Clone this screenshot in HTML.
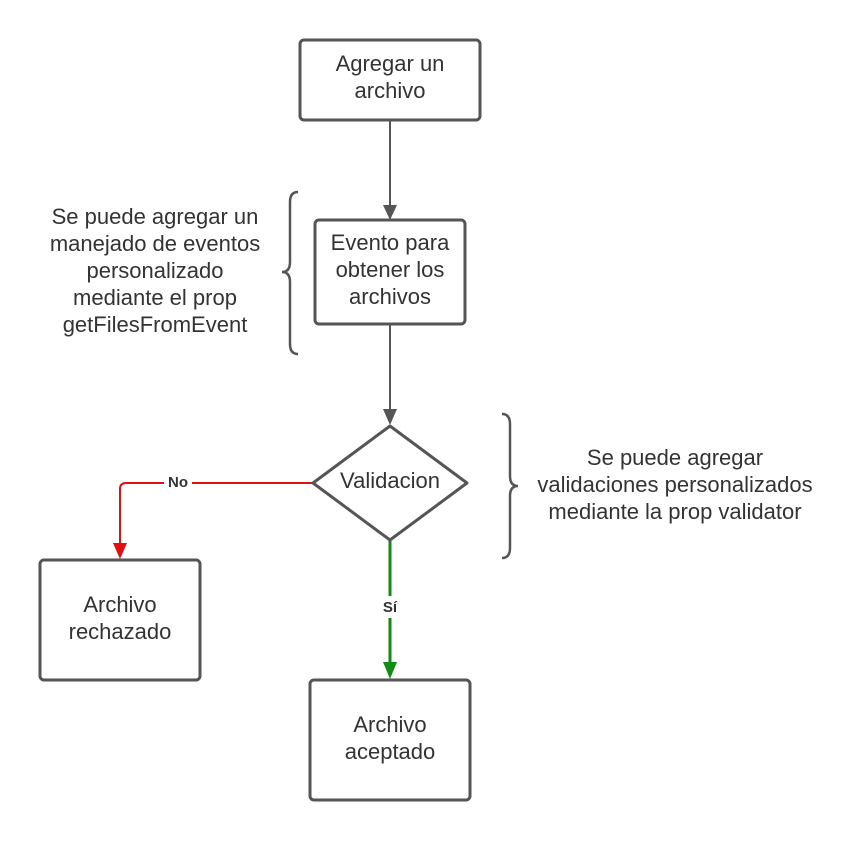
<!DOCTYPE html>
<html><head><style>
body{margin:0;background:#fff;}
svg text{font-family:"Liberation Sans",sans-serif;fill:#333;}
</style></head><body>
<svg width="860" height="840" xmlns="http://www.w3.org/2000/svg">
<g fill="none" stroke="#555" stroke-width="3">
<rect x="300" y="40" width="180" height="80" rx="4"/>
<rect x="315" y="220" width="150" height="104" rx="4"/>
<rect x="40" y="560" width="160" height="120" rx="4"/>
<rect x="310" y="680" width="160" height="120" rx="4"/>
<path d="M390,426 L467,483 L390,540 L313,483 Z" stroke-linejoin="round"/>
<line x1="390" y1="120" x2="390" y2="206" stroke-width="2"/>
<line x1="390" y1="324" x2="390" y2="410" stroke-width="2"/>
<path d="M298,192 Q290,192 290,202 L290,262 Q290,272 282,272 Q290,272 290,282 L290,344 Q290,354 298,354" stroke-width="2.5"/>
<path d="M502,414 Q510,414 510,424 L510,476 Q510,486 518,486 Q510,486 510,496 L510,548 Q510,558 502,558" stroke-width="2.5"/>
</g>
<path d="M383,205 L397,205 L390,220 Z" fill="#555"/>
<path d="M383,409 L397,409 L390,425 Z" fill="#555"/>
<path d="M312,483 L126,483 Q120,483 120,489 L120,545" fill="none" stroke="#e01010" stroke-width="2"/>
<path d="M113,543 L127,543 L120,559 Z" fill="#e01010"/>
<line x1="390" y1="541" x2="390" y2="664" stroke="#138a13" stroke-width="3"/>
<path d="M383,662 L397,662 L390,679 Z" fill="#138a13"/>
<rect x="164" y="472" width="28" height="20" fill="#fff"/>
<text x="178" y="487" font-size="15" font-weight="bold" text-anchor="middle">No</text>
<rect x="378" y="596" width="24" height="22" fill="#fff"/>
<text x="390" y="612" font-size="15" font-weight="bold" text-anchor="middle">Sí</text>
<g font-size="22" text-anchor="middle">
<text x="390" y="71">Agregar un</text><text x="390" y="98">archivo</text>
<text x="390" y="250">Evento para</text><text x="390" y="277">obtener los</text><text x="390" y="304">archivos</text>
<text x="390" y="488">Validacion</text>
<text x="120" y="612">Archivo</text><text x="120" y="639">rechazado</text>
<text x="390" y="732">Archivo</text><text x="390" y="759">aceptado</text>
<text x="155" y="224">Se puede agregar un</text>
<text x="155" y="251">manejado de eventos</text>
<text x="155" y="278">personalizado</text>
<text x="155" y="305">mediante el prop</text>
<text x="155" y="332">getFilesFromEvent</text>
<text x="675" y="465">Se puede agregar</text>
<text x="675" y="492">validaciones personalizados</text>
<text x="675" y="519">mediante la prop validator</text>
</g>
</svg>
</body></html>
